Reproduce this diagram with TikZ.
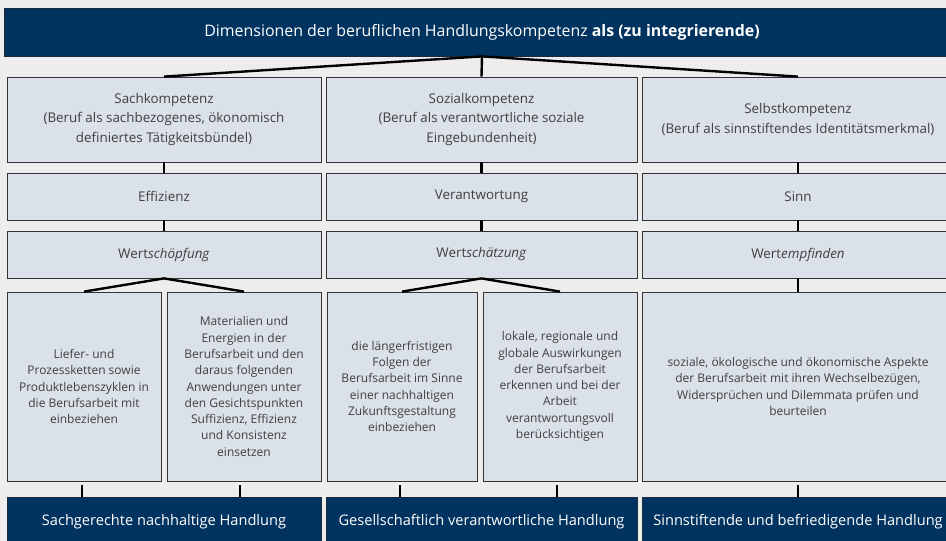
\documentclass[tikz,border=0pt]{standalone}
\usepackage{fontspec}
\setmainfont{Open Sans}
\definecolor{bgcol}{HTML}{EDEDED}
\definecolor{boxfill}{HTML}{DAE1E8}
\definecolor{boxline}{HTML}{333333}
\definecolor{navy}{HTML}{00335F}
\definecolor{navyline}{HTML}{1A2A3A}
\definecolor{txt}{HTML}{404040}
\tikzset{
  box/.style={draw=boxline, fill=boxfill, line width=0.8pt, align=center, text=txt, inner sep=0pt,
    font=\fontsize{13.4}{19.2}\selectfont},
  smallbox/.style={box, font=\fontsize{12}{16.3}\selectfont},
  darkbox/.style={fill=navy, draw=navyline, line width=0.8pt, text=white, inner sep=0pt,
    font=\fontsize{14.6}{17}\selectfont},
  link/.style={line width=2.4pt, draw=black}
}
\begin{document}
\begin{tikzpicture}[x=1pt,y=-1pt]
\useasboundingbox (0,0) rectangle (946,541);
\clip (0,0) rectangle (946,541);
\fill[bgcol] (0,0) rectangle (946,541);
% top bar
\node[darkbox, minimum width=956pt, minimum height=48pt, font=\fontsize{15.9}{18}\selectfont] (top) at (482,32)
  {Dimensionen der beruflichen Handlungskompetenz \textbf{als (zu integrierende)}};
% row 1
\node[box, minimum width=314pt, minimum height=85pt] (A1) at (164,119.5)
  {Sachkompetenz\\(Beruf als sachbezogenes, ökonomisch\\definiertes Tätigkeitsbündel)};
\node[box, minimum width=311pt, minimum height=85pt] (B1) at (481.5,119.5)
  {Sozialkompetenz\\(Beruf als verantwortliche soziale\\Eingebundenheit)};
\node[box, minimum width=312pt, minimum height=85pt] (C1) at (798,119.5)
  {Selbstkompetenz\\(Beruf als sinnstiftendes Identitätsmerkmal)};
% row 2
\node[box, minimum width=314pt, minimum height=47pt] (A2) at (164,196.5) {Effizienz};
\node[box, minimum width=311pt, minimum height=47pt] (B2) at (481.5,196.5) {Verantwortung};
\node[box, minimum width=312pt, minimum height=47pt] (C2) at (798,196.5) {Sinn};
% row 3
\node[box, minimum width=314pt, minimum height=47pt] (A3) at (164,254.5) {Wert\textit{schöpfung}};
\node[box, minimum width=311pt, minimum height=47pt] (B3) at (481.5,254.5) {Wert\textit{schätzung}};
\node[box, minimum width=312pt, minimum height=47pt] (C3) at (798,254.5) {Wert\textit{empfinden}};
% row 4
\node[smallbox, minimum width=154pt, minimum height=189pt] (a1) at (84,386.5)
  {Liefer- und\\Prozessketten sowie\\Produktlebenszyklen in\\die Berufsarbeit mit\\einbeziehen};
\node[smallbox, minimum width=154pt, minimum height=189pt] (a2) at (244,386.5)
  {Materialien und\\Energien in der\\Berufsarbeit und den\\daraus folgenden\\Anwendungen unter\\den Gesichtspunkten\\Suffizienz, Effizienz\\und Konsistenz\\einsetzen};
\node[smallbox, minimum width=150pt, minimum height=189pt] (b1) at (402,386.5)
  {die längerfristigen\\Folgen der\\Berufsarbeit im Sinne\\einer nachhaltigen\\Zukunftsgestaltung\\einbeziehen};
\node[smallbox, minimum width=154pt, minimum height=189pt] (b2) at (560,386.5)
  {lokale, regionale und\\globale Auswirkungen\\der Berufsarbeit\\erkennen und bei der\\Arbeit\\verantwortungsvoll\\berücksichtigen};
\node[smallbox, minimum width=312pt, minimum height=189pt] (c4) at (798,386.5)
  {soziale, ökologische und ökonomische Aspekte\\der Berufsarbeit mit ihren Wechselbezügen,\\Widersprüchen und Dilemmata prüfen und\\beurteilen};
% bottom row
\node[darkbox, minimum width=314pt, minimum height=50pt] (A5) at (164,522) {Sachgerechte nachhaltige Handlung};
\node[darkbox, minimum width=311pt, minimum height=50pt] (B5) at (481.5,522) {Gesellschaftlich verantwortliche Handlung};
\node[darkbox, minimum width=312pt, minimum height=50pt] (C5) at (798,522) {Sinnstiftende und befriedigende Handlung};
% connectors
\draw[link] (top.south) -- (A1.north);
\draw[link] (top.south) -- (B1.north);
\draw[link] (top.south) -- (C1.north);
\foreach \c in {A,B,C}{
  \draw[link] (\c1.south) -- (\c2.north);
  \draw[link] (\c2.south) -- (\c3.north);
}
\draw[link] (A3.south) -- (a1.north);
\draw[link] (A3.south) -- (a2.north);
\draw[link] (B3.south) -- (b1.north);
\draw[link] (B3.south) -- (b2.north);
\draw[link] (C3.south) -- (c4.north);
\draw[link] ([xshift=-2pt,yshift=-4pt]a1.south) -- ([xshift=-2pt]a1.south |- A5.north);
\draw[link] ([xshift=-4pt,yshift=-4pt]a2.south) -- ([xshift=-4pt]a2.south |- A5.north);
\draw[link] ([xshift=-2pt,yshift=-4pt]b1.south) -- ([xshift=-2pt]b1.south |- B5.north);
\draw[link] ([xshift=-3pt,yshift=-4pt]b2.south) -- ([xshift=-3pt]b2.south |- B5.north);
\draw[link] ([yshift=-4pt]c4.south) -- (c4.south |- C5.north);
\end{tikzpicture}
\end{document}
